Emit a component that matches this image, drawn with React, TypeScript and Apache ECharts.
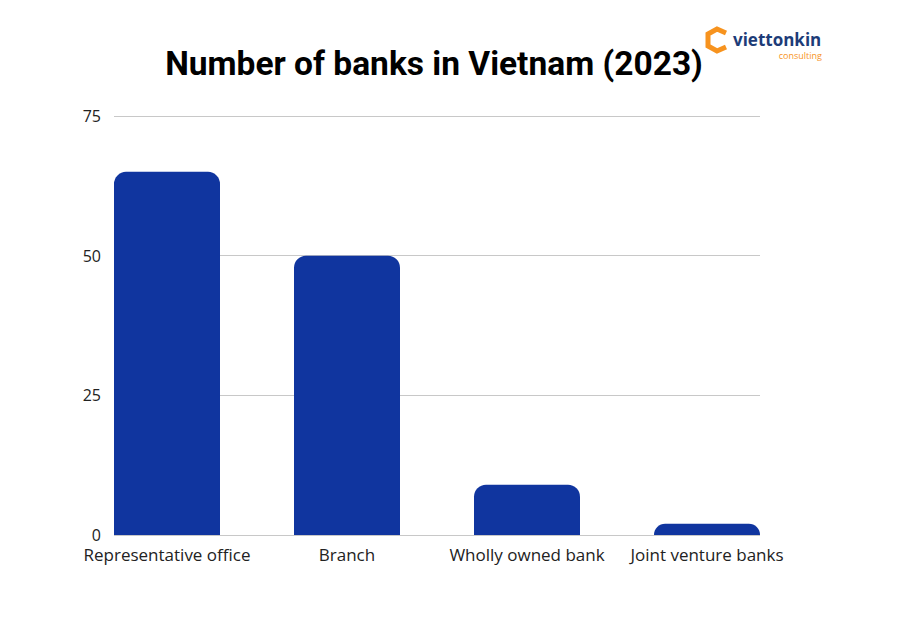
import React, { useEffect, useRef } from "react";
import * as echarts from "echarts";

const categories = ["Representative office", "Branch", "Wholly owned bank", "Joint venture banks"];
const bankCounts = [65, 50, 9, 2];
const yTicks = [0, 25, 50, 75];

export default function App() {
  const ref = useRef<HTMLDivElement>(null);
  useEffect(() => {
    if (!ref.current) return;
    const chart = echarts.init(ref.current, null, { renderer: "svg" });
    const yMax = yTicks[yTicks.length - 1];
    const yInterval = yTicks[1] - yTicks[0];
    chart.setOption({
      animation: false,
      backgroundColor: "#ffffff",
      title: {
        text: "Number of banks in Vietnam (2023)",
        left: 429,
        textAlign: "center",
        top: 41,
        textStyle: { fontFamily: "Roboto", fontWeight: "bold", fontSize: 33.5, color: "#000000" },
      },
      grid: [
        { left: 114, right: 140, top: 116, bottom: 92 },
        { left: 77, right: 103, top: 116, bottom: 92 },
      ],
      xAxis: [
        {
          type: "category",
          gridIndex: 0,
          data: categories,
          axisLine: { show: false },
          axisTick: { show: false },
          axisLabel: { show: false },
        },
        {
          type: "category",
          gridIndex: 1,
          data: categories,
          axisLine: { show: false },
          axisTick: { show: false },
          axisLabel: {
            margin: 11,
            fontFamily: "Open Sans",
            fontSize: 17,
            lineHeight: 17,
            color: "#222222",
            interval: 0,
          },
        },
      ],
      yAxis: [
        {
          type: "value",
          gridIndex: 0,
          min: 0,
          max: yMax,
          interval: yInterval,
          axisLine: { show: false },
          axisTick: { show: false },
          axisLabel: { margin: 13, fontFamily: "Open Sans", fontSize: 16, lineHeight: 14, color: "#222222" },
          splitLine: { lineStyle: { color: "#c8c8c8", width: 1 } },
        },
        {
          type: "value",
          gridIndex: 1,
          min: 0,
          max: yMax,
          interval: yInterval,
          show: false,
        },
      ],
      series: [
        {
          type: "bar",
          xAxisIndex: 1,
          yAxisIndex: 1,
          data: bankCounts,
          barWidth: 106,
          itemStyle: { color: "#10359f", borderRadius: [12, 12, 0, 0] },
        },
      ],
      graphic: [
        {
          type: "polyline",
          shape: { points: [[726, 33], [717, 29], [708, 34], [708, 46], [717, 51], [726, 47]] },
          style: { stroke: "#f7931e", lineWidth: 5, fill: "none", lineJoin: "miter" },
        },
        {
          type: "text",
          x: 733,
          y: 39,
          style: {
            text: "viettonkin",
            fontFamily: "Open Sans",
            fontWeight: "bold",
            fontSize: 17,
            lineHeight: 15,
            verticalAlign: "middle",
            fill: "#1d3c78",
          },
        },
        {
          type: "text",
          x: 822,
          y: 55.5,
          style: {
            text: "consulting",
            fontFamily: "Open Sans",
            fontSize: 9,
            lineHeight: 8,
            verticalAlign: "middle",
            fill: "#f7931e",
            align: "right",
          },
        },
      ],
    });
    return () => chart.dispose();
  }, []);
  return <div ref={ref} style={{ width: 900, height: 627, position: "absolute", left: 0, top: 0 }} />;
}
